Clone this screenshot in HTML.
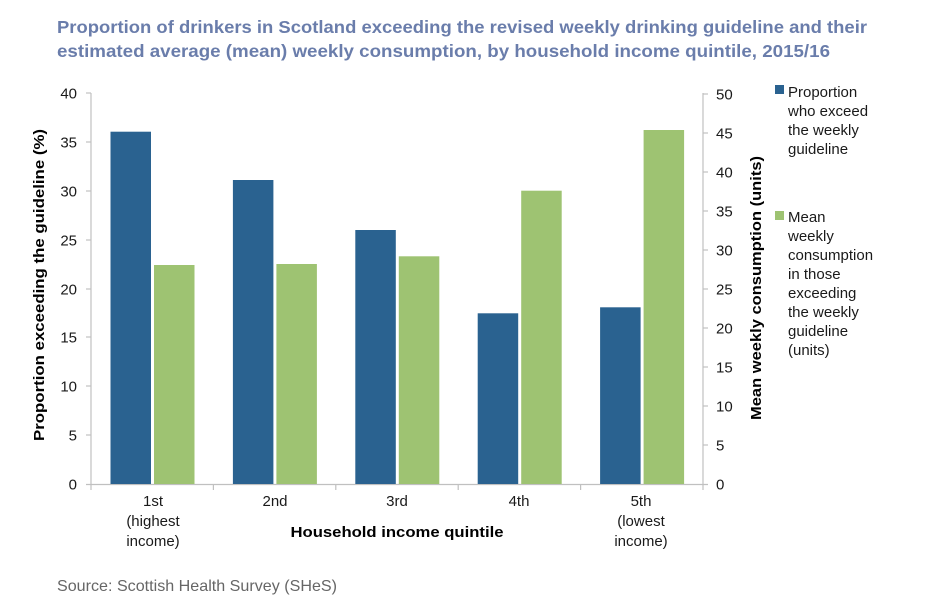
<!DOCTYPE html>
<html><head><meta charset="utf-8"><style>
html,body{margin:0;padding:0;background:#fff;}
svg{display:block;}
text{font-family:"Liberation Sans",Arial,sans-serif;}
</style></head><body>
<svg width="939" height="602" viewBox="0 0 939 602" xmlns="http://www.w3.org/2000/svg">
<rect width="939" height="602" fill="#fff"/>
<!-- Title -->
<text x="57" y="33" font-size="17.5" font-weight="bold" fill="#6a7dab" textLength="810" lengthAdjust="spacingAndGlyphs">Proportion of drinkers in Scotland exceeding the revised weekly drinking guideline and their</text>
<text x="57" y="57" font-size="17.5" font-weight="bold" fill="#6a7dab" textLength="773" lengthAdjust="spacingAndGlyphs">estimated average (mean) weekly consumption, by household income quintile, 2015/16</text>

<!-- Axes -->
<g stroke="#c0c0c0" stroke-width="1.2" fill="none">
<line x1="91" y1="93" x2="91" y2="484"/>
<line x1="703" y1="93" x2="703" y2="484"/>
<line x1="86" y1="484.5" x2="708" y2="484.5"/>
<!-- left ticks -->
<line x1="86" y1="93" x2="91" y2="93"/>
<line x1="86" y1="142" x2="91" y2="142"/>
<line x1="86" y1="191" x2="91" y2="191"/>
<line x1="86" y1="240" x2="91" y2="240"/>
<line x1="86" y1="289" x2="91" y2="289"/>
<line x1="86" y1="337" x2="91" y2="337"/>
<line x1="86" y1="386" x2="91" y2="386"/>
<line x1="86" y1="435" x2="91" y2="435"/>
<!-- right ticks -->
<line x1="703" y1="94" x2="708" y2="94"/>
<line x1="703" y1="133" x2="708" y2="133"/>
<line x1="703" y1="172" x2="708" y2="172"/>
<line x1="703" y1="211" x2="708" y2="211"/>
<line x1="703" y1="250" x2="708" y2="250"/>
<line x1="703" y1="289" x2="708" y2="289"/>
<line x1="703" y1="328" x2="708" y2="328"/>
<line x1="703" y1="367" x2="708" y2="367"/>
<line x1="703" y1="406" x2="708" y2="406"/>
<line x1="703" y1="445" x2="708" y2="445"/>
<!-- x ticks -->
<line x1="91" y1="484" x2="91" y2="490"/>
<line x1="213.4" y1="484" x2="213.4" y2="490"/>
<line x1="335.8" y1="484" x2="335.8" y2="490"/>
<line x1="458.2" y1="484" x2="458.2" y2="490"/>
<line x1="580.6" y1="484" x2="580.6" y2="490"/>
<line x1="703" y1="484" x2="703" y2="490"/>
</g>

<!-- Bars -->
<g fill="#2a6290">
<rect x="110.5" y="131.7" width="40.5" height="352.3"/>
<rect x="232.9" y="180" width="40.5" height="304"/>
<rect x="355.3" y="230" width="40.5" height="254"/>
<rect x="477.7" y="313.3" width="40.5" height="170.7"/>
<rect x="600.1" y="307.3" width="40.5" height="176.7"/>
</g>
<g fill="#9ec372">
<rect x="154" y="265" width="40.5" height="219"/>
<rect x="276.4" y="264" width="40.5" height="220"/>
<rect x="398.8" y="256.3" width="40.5" height="227.7"/>
<rect x="521.2" y="190.7" width="40.5" height="293.3"/>
<rect x="643.6" y="130" width="40.5" height="354"/>
</g>

<!-- Left tick labels -->
<g font-size="15" fill="#1a1a1a" text-anchor="end">
<text x="77" y="98.5">40</text>
<text x="77" y="147.5">35</text>
<text x="77" y="196.5">30</text>
<text x="77" y="245.5">25</text>
<text x="77" y="294.5">20</text>
<text x="77" y="342.5">15</text>
<text x="77" y="391.5">10</text>
<text x="77" y="440.5">5</text>
<text x="77" y="489.5">0</text>
</g>
<!-- Right tick labels -->
<g font-size="15" fill="#1a1a1a" text-anchor="start">
<text x="716" y="99.5">50</text>
<text x="716" y="138.5">45</text>
<text x="716" y="177.5">40</text>
<text x="716" y="216.5">35</text>
<text x="716" y="255.5">30</text>
<text x="716" y="294.5">25</text>
<text x="716" y="333.5">20</text>
<text x="716" y="372.5">15</text>
<text x="716" y="411.5">10</text>
<text x="716" y="450.5">5</text>
<text x="716" y="489.5">0</text>
</g>

<!-- Axis titles -->
<text transform="translate(44,285) rotate(-90)" font-size="15" font-weight="bold" fill="#000" text-anchor="middle" textLength="312" lengthAdjust="spacingAndGlyphs">Proportion exceeding the guideline (%)</text>
<text transform="translate(761,288) rotate(-90)" font-size="15" font-weight="bold" fill="#000" text-anchor="middle" textLength="264" lengthAdjust="spacingAndGlyphs">Mean weekly consumption (units)</text>

<!-- X labels -->
<g font-size="15" fill="#1a1a1a" text-anchor="middle">
<text x="153" y="506">1st</text>
<text x="153" y="526">(highest</text>
<text x="153" y="546">income)</text>
<text x="275" y="506">2nd</text>
<text x="397" y="506">3rd</text>
<text x="519" y="506">4th</text>
<text x="641" y="506">5th</text>
<text x="641" y="526">(lowest</text>
<text x="641" y="546">income)</text>
</g>
<text x="397" y="537" font-size="15" font-weight="bold" fill="#000" text-anchor="middle" textLength="213" lengthAdjust="spacingAndGlyphs">Household income quintile</text>

<!-- Legend -->
<rect x="775" y="85" width="9" height="9" fill="#2a6290"/>
<g font-size="15" fill="#1a1a1a">
<text x="788" y="97">Proportion</text>
<text x="788" y="116">who exceed</text>
<text x="788" y="135">the weekly</text>
<text x="788" y="154">guideline</text>
</g>
<rect x="775" y="211" width="9" height="9" fill="#9ec372"/>
<g font-size="15" fill="#1a1a1a">
<text x="788" y="222">Mean</text>
<text x="788" y="241">weekly</text>
<text x="788" y="260">consumption</text>
<text x="788" y="279">in those</text>
<text x="788" y="298">exceeding</text>
<text x="788" y="317">the weekly</text>
<text x="788" y="336">guideline</text>
<text x="788" y="355">(units)</text>
</g>

<!-- Source -->
<text x="57" y="591" font-size="16" fill="#666" textLength="280" lengthAdjust="spacingAndGlyphs">Source: Scottish Health Survey (SHeS)</text>
</svg>
</body></html>
